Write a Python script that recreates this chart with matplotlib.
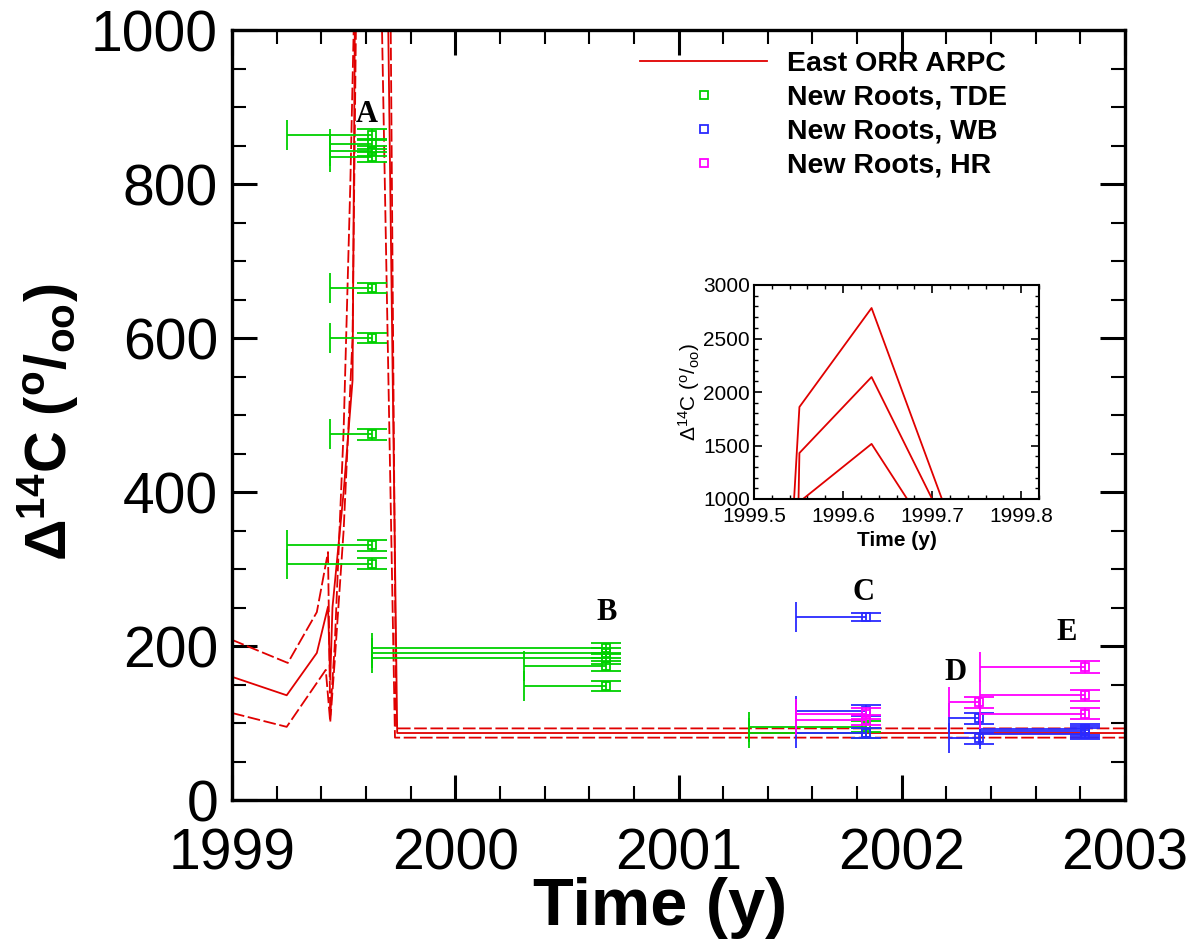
import numpy as np
import matplotlib
matplotlib.use("Agg")
import matplotlib.pyplot as plt
from matplotlib.ticker import MultipleLocator, FormatStrFormatter

# ---------------- data ----------------
# East ORR ARPC model curves (central, upper, lower bounds)
arpc_mid_t = [1999.0, 1999.245, 1999.38, 1999.43, 1999.44, 1999.45, 1999.50, 1999.54,
              1999.55, 1999.551, 1999.632, 1999.70, 1999.74, 2003.0]
arpc_mid_v = [160, 136, 191, 251, 156, 250, 400, 545,
              1000, 1430, 2140, 1000, 87, 87]
arpc_hi_t = [1999.0, 1999.25, 1999.38, 1999.43, 1999.44, 1999.46, 1999.50, 1999.53,
             1999.545, 1999.551, 1999.632, 1999.711, 1999.735, 2003.0]
arpc_hi_v = [208, 178, 244, 322, 110, 200, 480, 800,
             1000, 1860, 2785, 1000, 93, 93]
arpc_lo_t = [1999.0, 1999.245, 1999.42, 1999.44, 1999.46, 1999.50, 1999.54,
             1999.555, 1999.632, 1999.672, 1999.73, 2003.0]
arpc_lo_v = [113, 95, 169, 101, 180, 350, 600,
             1000, 1515, 1000, 81, 81]

# New roots, TDE (green)
tde_time = [1999.625] * 9 + [2000.675] * 5 + [2001.84] * 2
tde_val = [864, 852, 843, 835, 665, 600, 475, 331, 307,
           197, 191, 184, 174, 148,
           95, 87]
tde_start = [1999.245, 1999.44, 1999.44, 1999.44, 1999.44, 1999.44, 1999.44, 1999.245, 1999.245,
             1999.625, 1999.625, 1999.625, 2000.31, 2000.31,
             2001.317, 2001.317]
tde_err = [7] * 16

# New roots, WB (blue)
wb_time = [2001.84, 2001.84, 2001.84, 2002.345, 2002.345, 2002.82, 2002.82, 2002.82]
wb_val = [238, 116, 87, 106, 80, 92, 89, 86]
wb_start = [2001.527, 2001.527, 2001.527, 2002.21, 2002.21, 2002.35, 2002.35, 2002.35]
wb_err = [5, 7, 7, 7, 7, 7, 7, 7]

# New roots, HR (magenta)
hr_time = [2001.84, 2001.84, 2002.345, 2002.82, 2002.82, 2002.82]
hr_val = [112, 104, 127, 173, 136, 112]
hr_start = [2001.527, 2001.527, 2002.21, 2002.35, 2002.35, 2002.35]
hr_err = [7, 7, 7, 8, 7, 7]

labels_letters = ["A", "B", "C", "D", "E"]
letters_t = [1999.603, 2000.68, 2001.83, 2002.24, 2002.74]
letters_v = [890, 244, 270, 166, 218]

RED = "#e00000"
GREEN = "#00d000"
BLUE = "#2a2aff"
MAGENTA = "#ff00ff"

plt.rcParams["font.family"] = ["Liberation Sans", "DejaVu Sans"]
plt.rcParams["mathtext.fontset"] = "custom"
plt.rcParams["mathtext.rm"] = "Liberation Sans"
plt.rcParams["mathtext.it"] = "Liberation Sans"
plt.rcParams["mathtext.bf"] = "Liberation Sans:bold"

fig = plt.figure(figsize=(11.92, 9.42), dpi=100)
ax = fig.add_axes([232 / 1192, 1 - 800 / 942, (1125 - 232) / 1192, 770 / 942])


def draw_curves(a, lw, dashed=True):
    if dashed:
        a.plot(arpc_hi_t, arpc_hi_v, color=RED, lw=lw, dashes=(7, 2))
        a.plot(arpc_lo_t, arpc_lo_v, color=RED, lw=lw, dashes=(7, 2))
    else:
        a.plot(arpc_hi_t, arpc_hi_v, color=RED, lw=lw)
        a.plot(arpc_lo_t, arpc_lo_v, color=RED, lw=lw)
    a.plot(arpc_mid_t, arpc_mid_v, color=RED, lw=lw, label="East ORR ARPC")


def draw_series(a, t, v, start, err, color, label):
    t = np.asarray(t, float)
    v = np.asarray(v, float)
    start = np.asarray(start, float)
    xe = a.errorbar(t, v, xerr=[t - start, np.zeros_like(t)], fmt="none",
                    ecolor=color, elinewidth=1.3, capsize=11, capthick=1.3)
    xe[1][1].set_visible(False)
    a.errorbar(t, v, yerr=err, fmt="none", ecolor=color, elinewidth=1.3,
               capsize=11, capthick=1.3)
    a.plot(t, v, ls="none", marker="s", ms=6, mfc="none", mec=color, mew=1.3,
           label=label)


draw_curves(ax, 1.3)
draw_series(ax, tde_time, tde_val, tde_start, tde_err, GREEN, "New Roots, TDE")
draw_series(ax, wb_time, wb_val, wb_start, wb_err, BLUE, "New Roots, WB")
draw_series(ax, hr_time, hr_val, hr_start, hr_err, MAGENTA, "New Roots, HR")

for s, xt, yv in zip(labels_letters, letters_t, letters_v):
    ax.text(xt, yv, s, family="Liberation Serif", weight="bold", fontsize=22,
            ha="center", va="center")

ax.set_xlim(1999, 2003)
ax.set_ylim(0, 1000)
ax.xaxis.set_major_locator(MultipleLocator(1))
ax.xaxis.set_minor_locator(MultipleLocator(0.2))
ax.yaxis.set_major_locator(MultipleLocator(200))
ax.yaxis.set_minor_locator(MultipleLocator(50))
ax.tick_params(which="both", direction="in", top=True, right=True)
ax.tick_params(which="major", length=18, width=2.2, labelsize=41)
ax.tick_params(axis="y", which="major", pad=10)
ax.tick_params(axis="x", which="major", pad=20)
ax.tick_params(which="minor", length=10, width=1.5)
for sp in ax.spines.values():
    sp.set_linewidth(2.4)
ax.set_xlabel("Time (y)", fontsize=48, fontweight="bold")
ax.xaxis.set_label_coords(0.479, -0.140, transform=ax.transAxes)
ax.xaxis.label.set_va("center")
ax.set_ylabel(r"$\mathbf{\Delta}^{\mathbf{14}}$C ($^{\mathbf{o}}$/$_{\mathbf{oo}}$)",
              fontsize=41.5, fontweight="bold")
ax.yaxis.set_label_coords(-0.207, 0.491, transform=ax.transAxes)
ax.yaxis.label.set_va("center")

leg = ax.legend(loc="upper left", bbox_to_anchor=(0.457, 0.973), frameon=False,
                prop={"size": 20.5, "weight": "bold"}, handlelength=4.46,
                handletextpad=0.7, labelspacing=0.28, borderpad=0,
                borderaxespad=0, numpoints=1)

# ---------------- inset ----------------
ins = fig.add_axes([754 / 1192, 1 - 499 / 942, (1039 - 754) / 1192, 214 / 942])
draw_curves(ins, 1.3, dashed=False)
ins.set_xlim(1999.5, 1999.82)
ins.set_ylim(1000, 3000)
ins.xaxis.set_major_locator(MultipleLocator(0.1))
ins.xaxis.set_minor_locator(MultipleLocator(0.02))
ins.xaxis.set_major_formatter(FormatStrFormatter("%.1f"))
ins.yaxis.set_major_locator(MultipleLocator(500))
ins.yaxis.set_minor_locator(MultipleLocator(100))
ins.tick_params(which="both", direction="in", top=True, right=True)
ins.tick_params(which="major", length=6, width=1.2, labelsize=15)
ins.tick_params(axis="x", which="major", pad=6)
ins.tick_params(axis="y", which="major", pad=3)
ins.tick_params(which="minor", length=3, width=1.0)
for sp in ins.spines.values():
    sp.set_linewidth(1.5)
ins.set_xlabel("Time (y)", fontsize=15, fontweight="bold", labelpad=3)
ins.set_ylabel(r"$\Delta^{14}$C ($^{o}$/$_{oo}$)", fontsize=15, labelpad=1)

fig.savefig("out.png", dpi=100)
